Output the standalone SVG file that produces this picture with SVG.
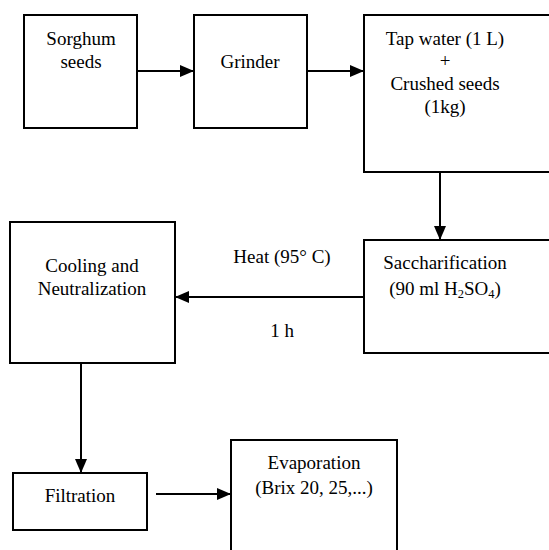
<svg xmlns="http://www.w3.org/2000/svg" width="549" height="550" viewBox="0 0 549 550">
<style>
.box{fill:#fff;stroke:#000;stroke-width:2}
.t{font-family:'Liberation Serif','Times New Roman',serif;font-size:19px;fill:#000;text-anchor:middle}
.c{stroke:#000;stroke-width:2;fill:none}
</style>
<defs>
<marker id="ah" markerWidth="14" markerHeight="12" refX="14" refY="6" orient="auto" markerUnits="userSpaceOnUse">
<path d="M0,0 L14,6 L0,12 Z" fill="#000"/>
</marker>
</defs>
<rect width="549" height="550" fill="#fff"/>
<g id="sorghum"><rect class="box" x="24" y="15" width="113" height="113"/>
<text class="t" x="81" y="45">Sorghum</text><text class="t" x="81" y="68">seeds</text></g>
<g id="grinder"><rect class="box" x="194" y="15" width="113" height="113"/>
<text class="t" x="250" y="68">Grinder</text></g>
<g id="tapwater"><rect class="box" x="364" y="15" width="200" height="157"/>
<text class="t" x="445" y="45">Tap water (1 L)</text><text class="t" x="445" y="67">+</text>
<text class="t" x="445" y="90">Crushed seeds</text><text class="t" x="445" y="113">(1kg)</text></g>
<g id="sacch"><rect class="box" x="364" y="240" width="200" height="113"/>
<text class="t" x="445" y="269">Saccharification</text>
<text class="t" x="445" y="295">(90 ml H<tspan font-size="12.5" dy="3">2</tspan><tspan dy="-3">SO</tspan><tspan font-size="12.5" dy="3">4</tspan><tspan dy="-3">)</tspan></text></g>
<g id="cooling"><rect class="box" x="10" y="222" width="165" height="141"/>
<text class="t" x="92" y="272">Cooling and</text><text class="t" x="92" y="295">Neutralization</text></g>
<g id="filtration"><rect class="box" x="13" y="473" width="134" height="57"/>
<text class="t" x="80" y="502">Filtration</text></g>
<g id="evap"><rect class="box" x="231" y="440" width="166" height="130"/>
<text class="t" x="314" y="469">Evaporation</text><text class="t" x="314" y="494">(Brix 20, 25,...)</text></g>
<g id="labels"><text class="t" x="282" y="263">Heat (95° C)</text><text class="t" x="282" y="337">1 h</text></g>
<g id="connectors">
<line class="c" x1="137" y1="71" x2="194" y2="71" marker-end="url(#ah)"/>
<line class="c" x1="307" y1="71" x2="364" y2="71" marker-end="url(#ah)"/>
<line class="c" x1="440" y1="172" x2="440" y2="240" marker-end="url(#ah)"/>
<line class="c" x1="364" y1="297" x2="175" y2="297" marker-end="url(#ah)"/>
<line class="c" x1="81" y1="363" x2="81" y2="473" marker-end="url(#ah)"/>
<line class="c" x1="156" y1="494" x2="231" y2="494" marker-end="url(#ah)"/>
</g>
</svg>
